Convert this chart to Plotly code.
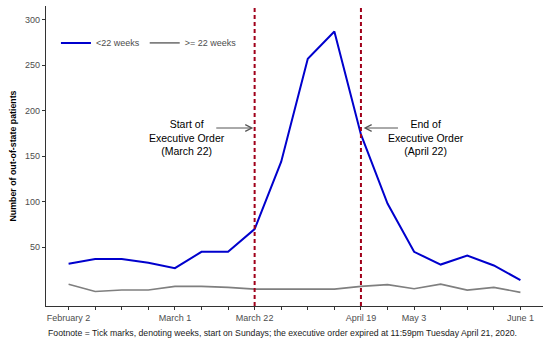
import plotly.graph_objects as go

weeks = list(range(18))
tick_labels = ["February 2", "", "", "", "March 1", "", "", "March 22", "", "", "",
               "April 19", "", "May 3", "", "", "", "June 1"]
under_22 = [32, 37, 37, 33, 27, 45, 45, 70, 144, 257, 287, 174, 98, 45, 31, 41, 30, 14]
over_22 = [9.5, 1.5, 3, 3, 7, 7, 6, 4, 4, 4, 4, 7, 9, 4.5, 9.5, 3, 6, 0.5]
event_weeks = [7, 11]
event_texts = ["Start of<br>Executive Order<br>(March 22)", "End of<br>Executive Order<br>(April 22)"]
text_pos = [(4.45, 170.5), (13.45, 170.5)]
arrow_tail = [(5.5, 181), (12.45, 181)]
arrow_head = [(6.95, 181), (11.1, 181)]

FONT = "Liberation Sans, Arial, sans-serif"

fig = go.Figure()
fig.add_trace(go.Scatter(x=weeks, y=under_22, mode="lines", name="<22 weeks",
                         line=dict(color="#0000CD", width=2)))
fig.add_trace(go.Scatter(x=weeks, y=over_22, mode="lines", name=">= 22 weeks",
                         line=dict(color="#7F7F7F", width=1.6)))

for w in event_weeks:
    fig.add_shape(type="line", xref="x", yref="paper", x0=w, x1=w, y0=0, y1=1,
                  line=dict(color="#A0001A", width=2, dash="4px,3px"))

for txt, (tx, ty) in zip(event_texts, text_pos):
    fig.add_annotation(x=tx, y=ty, text=txt, showarrow=False, xref="x", yref="y",
                       font=dict(family=FONT, size=10.5, color="black"), align="center")

for (hx, hy), (tx, ty) in zip(arrow_head, arrow_tail):
    fig.add_annotation(x=hx, y=hy, ax=tx, ay=ty, axref="x", ayref="y", xref="x", yref="y",
                       text="", showarrow=True, arrowhead=5, arrowsize=1.3, arrowwidth=1,
                       arrowcolor="#555555")

fig.add_annotation(x=0, xref="paper", y=-0.09, yref="paper", xanchor="left", yanchor="middle",
                   showarrow=False,
                   text="Footnote = Tick marks, denoting weeks, start on Sundays; the executive order expired at 11:59pm Tuesday April 21, 2020.",
                   font=dict(family=FONT, size=8.7, color="#1a1a1a"))

fig.update_layout(
    width=550, height=343,
    margin=dict(l=46, r=7, t=6, b=37),
    paper_bgcolor="white", plot_bgcolor="white",
    font=dict(family=FONT, size=9, color="#4D4D4D"),
    legend=dict(orientation="h", x=0.02, y=0.877, xanchor="left", yanchor="middle",
                bgcolor="rgba(0,0,0,0)", font=dict(size=9, color="#4D4D4D"),
                itemwidth=30, tracegroupgap=0),
    xaxis=dict(range=[-0.85, 17.85], tickmode="array", tickvals=weeks, ticktext=tick_labels,
               showgrid=False, zeroline=False, showline=True, linecolor="#333333", linewidth=1.2,
               ticks="outside", ticklen=3, tickcolor="#333333", automargin=False,
               tickfont=dict(size=9, color="#4D4D4D")),
    yaxis=dict(range=[-14.5, 315], tickvals=[50, 100, 150, 200, 250, 300],
               showgrid=False, zeroline=False, showline=True, linecolor="#333333", linewidth=1.2,
               ticks="outside", ticklen=3, tickcolor="#333333", automargin=False,
               tickfont=dict(size=9, color="#4D4D4D"),
               title=dict(text="<b>Number of out-of-state patients</b>", standoff=6,
                          font=dict(size=8.8, color="black"))),
)

fig.write_html("out.html", config={"displayModeBar": False},
               post_script="document.body.style.margin='0px';")
